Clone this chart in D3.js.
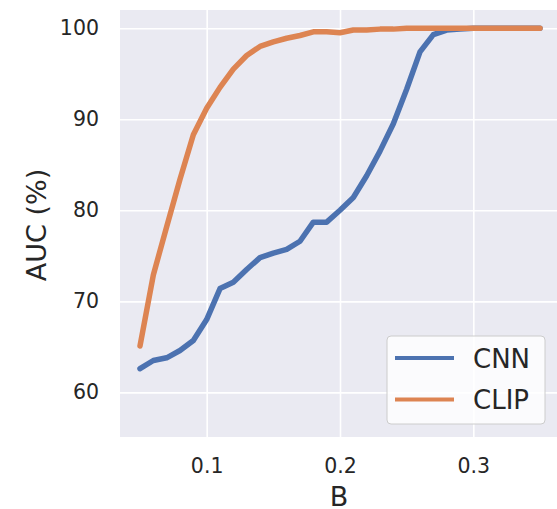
<!DOCTYPE html>
<html>
<head>
<meta charset="utf-8">
<script src="https://cdn.jsdelivr.net/npm/d3@7"></script>
<style>
  body { margin: 0; background: #ffffff; }
  svg { display: block; font-family: "DejaVu Sans", sans-serif; }
</style>
</head>
<body>
<svg id="chart" width="557" height="509"></svg>
<script>
// budget B, step 0.01
var budgets = [0.05, 0.06, 0.07, 0.08, 0.09, 0.10, 0.11, 0.12, 0.13, 0.14, 0.15,
               0.16, 0.17, 0.18, 0.19, 0.20, 0.21, 0.22, 0.23, 0.24, 0.25, 0.26,
               0.27, 0.28, 0.29, 0.30, 0.31, 0.32, 0.33, 0.34, 0.35];

// AUC (%)
var cnnAuc = [62.6, 63.5, 63.8, 64.6, 65.7, 68.0, 71.4, 72.1, 73.5, 74.8, 75.3,
              75.7, 76.6, 78.7, 78.7, 80.0, 81.4, 83.8, 86.5, 89.5, 93.3, 97.4,
              99.3, 99.8, 99.9, 100.0, 100.0, 100.0, 100.0, 100.0, 100.0];
var clipAuc = [65.1, 72.9, 78.2, 83.4, 88.3, 91.2, 93.5, 95.5, 97.0, 98.0, 98.5,
               98.9, 99.2, 99.6, 99.6, 99.5, 99.8, 99.8, 99.9, 99.9, 100.0, 100.0,
               100.0, 100.0, 100.0, 100.0, 100.0, 100.0, 100.0, 100.0, 100.0];

var seriesNames = ["CNN", "CLIP"];
var seriesColors = ["#4c72b0", "#dd8452"];
var xTicks = [0.1, 0.2, 0.3];
var yTicks = [60, 70, 80, 90, 100];

var svg = d3.select("#chart");
var plotLeft = 120, plotRight = 560, plotTop = 10, plotBottom = 437;

var x = d3.scaleLinear().domain([0.035, 0.365]).range([plotLeft, plotRight]);
var y = d3.scaleLinear().domain([55.1, 102]).range([plotBottom, plotTop]);

// plot background
svg.append("rect")
  .attr("x", plotLeft).attr("y", plotTop)
  .attr("width", plotRight - plotLeft).attr("height", plotBottom - plotTop)
  .attr("fill", "#eaeaf2");

// grid
svg.append("g")
  .attr("transform", "translate(0," + plotBottom + ")")
  .call(d3.axisBottom(x).tickValues(xTicks).tickSize(-(plotBottom - plotTop)).tickFormat(""))
  .call(function(g) {
    g.select(".domain").remove();
    g.selectAll("line").attr("stroke", "#ffffff").attr("stroke-width", 1.6);
  });
svg.append("g")
  .attr("transform", "translate(" + plotLeft + ",0)")
  .call(d3.axisLeft(y).tickValues(yTicks).tickSize(-(plotRight - plotLeft)).tickFormat(""))
  .call(function(g) {
    g.select(".domain").remove();
    g.selectAll("line").attr("stroke", "#ffffff").attr("stroke-width", 1.6);
  });

// tick labels
svg.append("g")
  .attr("transform", "translate(0," + plotBottom + ")")
  .call(d3.axisBottom(x).tickValues(xTicks).tickSize(0).tickPadding(21).tickFormat(d3.format(".1f")))
  .call(function(g) {
    g.select(".domain").remove();
    g.selectAll("text").attr("fill", "#262626").style("font-size", "20.5px")
      .style("font-family", "DejaVu Sans");
  });
svg.append("g")
  .attr("transform", "translate(" + plotLeft + ",0)")
  .call(d3.axisLeft(y).tickValues(yTicks).tickSize(0).tickPadding(21).tickFormat(d3.format("d")))
  .call(function(g) {
    g.select(".domain").remove();
    g.selectAll("text").attr("fill", "#262626").style("font-size", "20.5px")
      .style("font-family", "DejaVu Sans");
  });

// axis titles
svg.append("text")
  .attr("x", 339).attr("y", 506)
  .attr("text-anchor", "middle").attr("fill", "#262626")
  .style("font-size", "27px")
  .text("B");
svg.append("text")
  .attr("transform", "translate(46,225) rotate(-90)")
  .attr("text-anchor", "middle").attr("fill", "#262626")
  .style("font-size", "27px")
  .text("AUC (%)");

// lines
var line = d3.line()
  .x(function(d) { return x(d[0]); })
  .y(function(d) { return y(d[1]); });

var series = [cnnAuc, clipAuc];
series.forEach(function(vals, i) {
  svg.append("path")
    .datum(budgets.map(function(b, j) { return [b, vals[j]]; }))
    .attr("d", line)
    .attr("fill", "none")
    .attr("stroke", seriesColors[i])
    .attr("stroke-width", 5.5)
    .attr("stroke-linejoin", "round")
    .attr("stroke-linecap", "round");
});

// legend
var lg = svg.append("g");
lg.append("rect")
  .attr("x", 387).attr("y", 336).attr("width", 158).attr("height", 88)
  .attr("rx", 4).attr("fill", "#ffffff").attr("fill-opacity", 0.8)
  .attr("stroke", "#cccccc").attr("stroke-width", 1);
seriesNames.forEach(function(name, i) {
  var ly = 358 + i * 41.5;
  lg.append("line")
    .attr("x1", 395).attr("x2", 454).attr("y1", ly).attr("y2", ly)
    .attr("stroke", seriesColors[i]).attr("stroke-width", 4);
  lg.append("text")
    .attr("x", 473).attr("y", ly + 9.5)
    .attr("fill", "#262626").style("font-size", "26px")
    .text(name);
});
</script>
</body>
</html>
